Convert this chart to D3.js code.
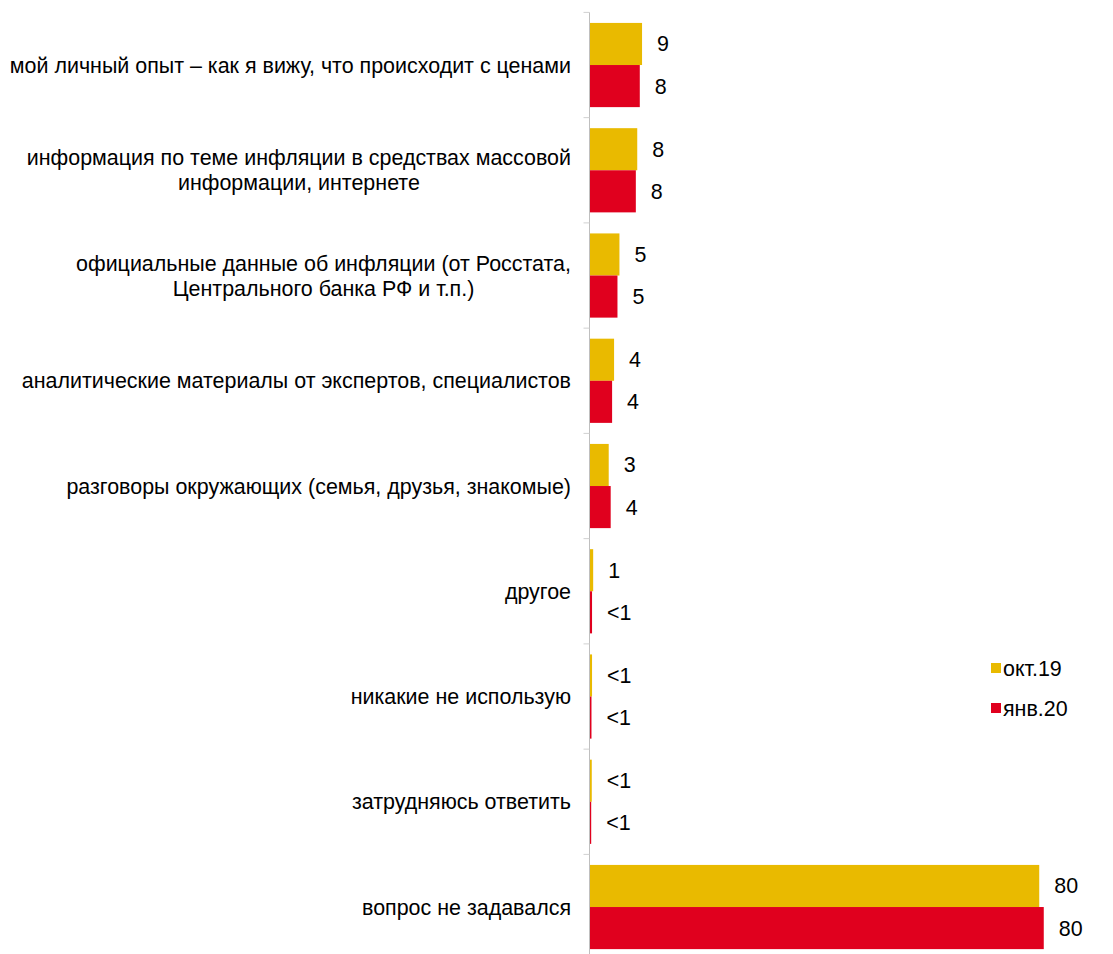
<!DOCTYPE html>
<html>
<head>
<meta charset="utf-8">
<script src="https://cdn.jsdelivr.net/npm/d3@7"></script>
<style>
  body { margin: 0; background: #fff; }
  svg { display: block; font-family: "Liberation Sans", Arial, sans-serif; }
</style>
</head>
<body>
<svg id="chart" width="1113" height="954"></svg>
<script>
// categories, top to bottom
const categories = [
  "мой личный опыт – как я вижу, что происходит с ценами",
  "информация по теме инфляции в средствах массовой|информации, интернете",
  "официальные данные об инфляции (от Росстата,|Центрального банка РФ и т.п.)",
  "аналитические материалы от экспертов, специалистов",
  "разговоры окружающих (семья, друзья, знакомые)",
  "другое",
  "никакие не использую",
  "затрудняюсь ответить",
  "вопрос не задавался",
];
const seriesNames = ["окт.19", "янв.20"];
const seriesColors = ["#E9BA00", "#E0001E"];

// values
const octValues = [9.3, 8.45, 5.3, 4.35, 3.4, 0.65, 0.45, 0.4, 79.6];
const janValues = [8.9, 8.2, 4.95, 4.0, 3.75, 0.45, 0.35, 0.3, 80.4];
// printed data labels
const octLabels = ["9", "8", "5", "4", "3", "1", "<1", "<1", "80"];
const janLabels = ["8", "8", "5", "4", "4", "<1", "<1", "<1", "80"];

const series = [
  { name: seriesNames[0], values: octValues, labels: octLabels, color: seriesColors[0] },
  { name: seriesNames[1], values: janValues, labels: janLabels, color: seriesColors[1] },
];

const svg = d3.select("#chart");
const FONT = 21.45;
const axisX = 589.5;
const plotTop = 12.4, plotBottom = 12.4 + 9 * 105.25;

const y = d3.scaleBand()
  .domain(d3.range(categories.length))
  .range([plotTop, plotBottom])
  .paddingInner(0.2)
  .paddingOuter(0.1);

const ySub = d3.scaleBand()
  .domain(d3.range(series.length))
  .range([0, y.bandwidth()]);

const x = d3.scaleLinear().domain([0, 80]).range([axisX, axisX + 80 * 5.65]);

// bars
const groups = svg.append("g").selectAll("g")
  .data(categories.map((c, i) => i))
  .join("g")
  .attr("transform", (i) => `translate(0,${y(i)})`);

series.forEach((s, si) => {
  groups.append("rect")
    .attr("x", x(0))
    .attr("y", ySub(si))
    .attr("width", (i) => x(s.values[i]) - x(0))
    .attr("height", ySub.bandwidth())
    .attr("fill", s.color);

  groups.append("text")
    .attr("x", (i) => x(s.values[i]) + 15)
    .attr("y", ySub(si) + ySub.bandwidth() / 2)
    .attr("dy", "0.35em")
    .style("font-size", FONT + "px")
    .attr("fill", "#000")
    .text((i) => s.labels[i]);
});

// axis line + tick marks at category boundaries
const axis = svg.append("g");
axis.append("line")
  .attr("x1", axisX).attr("x2", axisX)
  .attr("y1", plotTop).attr("y2", plotBottom)
  .attr("stroke", "#bfbfbf").attr("stroke-width", 1);
const step = y.step();
axis.selectAll("line.tick")
  .data(d3.range(categories.length + 1))
  .join("line")
  .attr("class", "tick")
  .attr("x1", axisX - 6).attr("x2", axisX)
  .attr("y1", (i) => plotTop + i * step)
  .attr("y2", (i) => plotTop + i * step)
  .attr("stroke", "#d0d0d0").attr("stroke-width", 1);

// category labels (multi-line labels are centred in their block)
const labelRight = 571;
const lineH = 25;
categories.forEach((c, i) => {
  const lines = c.split("|");
  const cy = y(i) + y.bandwidth() / 2;
  const t = svg.append("text")
    .style("font-size", FONT + "px")
    .attr("fill", "#000");
  const spans = lines.map((ln, k) =>
    t.append("tspan")
      .attr("y", cy + (k - (lines.length - 1) / 2) * lineH)
      .attr("dy", "0.35em")
      .text(ln)
  );
  const widths = spans.map((sp) => sp.node().getComputedTextLength());
  const maxW = d3.max(widths);
  const mid = labelRight - maxW / 2;
  spans.forEach((sp) => sp.attr("x", mid).attr("text-anchor", "middle"));
});

// legend
const legend = svg.append("g").attr("transform", "translate(991,668)");
series.forEach((s, si) => {
  const g = legend.append("g").attr("transform", `translate(0,${si * 40})`);
  g.append("rect").attr("x", 0).attr("y", -5).attr("width", 10).attr("height", 10).attr("fill", s.color);
  g.append("text").attr("x", 12).attr("y", 0).attr("dy", "0.35em")
    .style("font-size", FONT + "px").text(s.name);
});
</script>
</body>
</html>
